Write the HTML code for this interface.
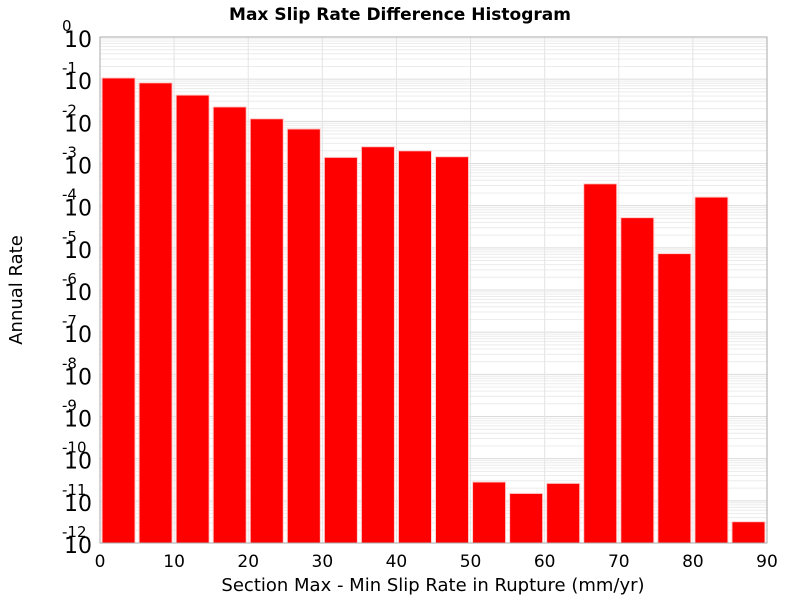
<!DOCTYPE html>
<html><head><meta charset="utf-8"><style>
body{margin:0;background:#fff;}
svg{display:block;font-family:"Liberation Sans","DejaVu Sans",sans-serif;}
</style></head><body>
<svg id="c" width="800" height="600" viewBox="0 0 800 600">
<text x="400" y="20" text-anchor="middle" font-size="17" font-weight="bold" font-family="DejaVu Sans, sans-serif">Max Slip Rate Difference Histogram</text>
<text x="433" y="591" text-anchor="middle" font-size="18" font-family="DejaVu Sans, sans-serif">Section Max - Min Slip Rate in Rupture (mm/yr)</text>
<text transform="translate(22,290) rotate(-90)" text-anchor="middle" font-size="18" font-family="DejaVu Sans, sans-serif">Annual Rate</text>
<g id="grid"></g><g id="bars"></g><g id="axes"></g>
</svg>
<script>
const binStarts=[0,5,10,15,20,25,30,35,40,45,50,55,60,65,70,75,80,85];
const rates=[0.107,0.082,0.042,0.022,0.0115,0.0066,0.0014,0.0025,0.002,0.00145,2.8e-11,1.5e-11,2.6e-11,3.3e-4,5.2e-5,7.3e-6,1.6e-4,3.2e-12];
const xTicks=[0,10,20,30,40,50,60,70,80,90];
const yExps=[0,-1,-2,-3,-4,-5,-6,-7,-8,-9,-10,-11,-12];
const L=100,R=767,T=37,B=543;
const xs=v=>L+(v-0)/90*(R-L);
const ys=v=>T+(0-Math.log10(v))/12*(B-T);
const NS='http://www.w3.org/2000/svg';
function mk(tag,attrs,parent){const e=document.createElementNS(NS,tag);for(const k in attrs)e.setAttribute(k,attrs[k]);parent.appendChild(e);return e;}
const grid=document.getElementById('grid'),bars=document.getElementById('bars'),axes=document.getElementById('axes');
mk('rect',{x:L,y:T,width:R-L,height:B-T,fill:'#fff'},grid);
for(let e=0;e>-12;e--){for(let m=2;m<=9;m++){const y=ys(m*Math.pow(10,e-1));
const l=mk('line',{x1:L,x2:R,y1:y,y2:y,stroke:'#ececec','stroke-width':1},grid);

}}
yExps.forEach(e=>{const y=ys(Math.pow(10,e));
const l=mk('line',{x1:L,x2:R,y1:y,y2:y,stroke:'#dcdcdc','stroke-width':1},grid);


const t=mk('text',{x:L-8,y:y+10,'text-anchor':'end','font-size':22,'font-family':'DejaVu Sans, sans-serif'},axes);


t.textContent='10';
const s=mk('text',{x:L-8,y:y-6,'text-anchor':'start','font-size':15,'font-family':'DejaVu Sans, sans-serif'},axes);


s.setAttribute('x',L-38+ (String(e).length>2? -0:0));
s.textContent=String(e);});
xTicks.forEach(v=>{const x=xs(v);
const l=mk('line',{x1:x,x2:x,y1:T,y2:B,stroke:'#e4e4e4','stroke-width':1},grid);


const t=mk('text',{x:x,y:B+24,'text-anchor':'middle','font-size':17,'font-family':'DejaVu Sans, sans-serif'},axes);


t.textContent=v;});
binStarts.forEach((b,i)=>{const x0=xs(b)+2,x1=xs(b+5)-2,y=ys(rates[i]);
const r=mk('rect',{x:x0,y:y,width:x1-x0,height:B-y,fill:'#ff0000',stroke:'#ffd0d0','stroke-width':1},bars);

});
const f=mk('rect',{x:L,y:T,width:R-L,height:B-T,fill:'none',stroke:'#aaa','stroke-width':1},axes);


</script>
</body></html>
